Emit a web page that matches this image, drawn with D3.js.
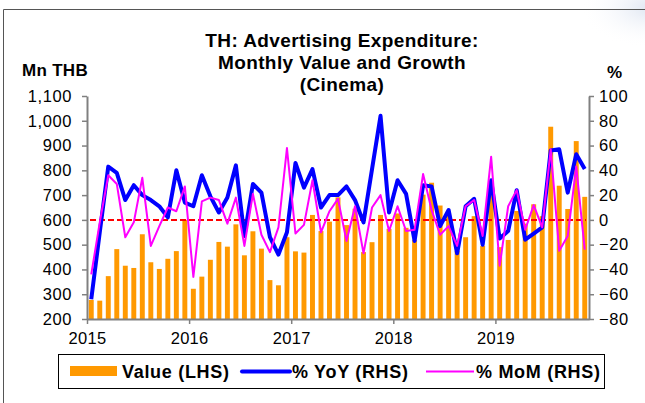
<!DOCTYPE html>
<html>
<head>
<meta charset="utf-8">
<script src="https://cdn.jsdelivr.net/npm/d3@7"></script>
<style>
  html, body { margin: 0; padding: 0; background: #fff; }
  svg { display: block; font-family: "Liberation Sans", Arial, sans-serif; }
</style>
</head>
<body>
<svg id="chart" width="645" height="403"></svg>
<script>
// ---- data ----
const years = ["2015", "2016", "2017", "2018", "2019"];
const months = d3.range(59).map(i => `${2015 + Math.floor(i / 12)}-${String(i % 12 + 1).padStart(2, "0")}`);
const values = [277, 274, 373, 482, 415, 406, 542, 429, 402, 443, 474, 600,
                 322, 371, 439, 511, 492, 582, 457, 554, 484, 357, 336, 530,
                 473, 468, 620, 555, 593, 691, 579, 645, 470, 510, 620, 564,
                 626, 568, 520, 702, 750, 658, 625, 475, 530, 615, 495, 755,
                 490, 519, 636, 585, 663, 615, 976, 738, 644, 918, 693];
const yoy = [-64, -10, 43, 38, 16, 28, 20, 16, 11, 2, 40, 14,
             11, 36, 19, 6, 18, 44, -13, 29, 22, -14, -28, -10,
             46, 26, 41, 10, 20, 20, 27, 16, -2, 41, 84, 6,
             32, 21, -17, 28, 27, -5, 8, -27, 11, 17, -20, 32,
             -15, -9, 24, -16, -11, -6, 56, 57, 22, 53, 41];
const mom = [-44, -2, 36, 29, -14, -2, 34, -21, -5, 10, 7, 27,
             -46, 15, 18, 16, -3, 18, -21, 21, -12, -26, -6, 58,
             -11, -4, 32, -10, 7, 17, -17, 11, -27, 10, 20, -9,
             11, -9, -8, 37, 8, -12, -5, -21, 11, 16, -13, 51,
             -37, 11, 24, -8, 12, -6, 57, -25, -13, 43, -24];
const leftTicks = d3.range(200, 1101, 100);
const rightTicks = d3.range(-80, 101, 20);
const titleLines = ["TH: Advertising Expenditure:", "Monthly Value and Growth", "(Cinema)"];

// ---- layout ----
const svg = d3.select("#chart");
const L = 87, R = 589, T = 96, B = 319;

// frame
svg.append("defs").append("radialGradient").attr("id", "glow")
  .call(g => {
    g.append("stop").attr("offset", "0%").attr("stop-color", "#dfe6f2");
    g.append("stop").attr("offset", "100%").attr("stop-color", "#ffffff").attr("stop-opacity", 0);
  });
svg.append("ellipse").attr("cx", 650).attr("cy", 8).attr("rx", 70).attr("ry", 40).attr("fill", "url(#glow)");
svg.append("path").attr("d", "M3.5,420 V9.5 H645").attr("fill", "none").attr("stroke", "#555").attr("stroke-width", 1);

const x = d3.scaleBand().domain(months).range([L, R]).paddingInner(0.42).paddingOuter(0.21);
const xLin = d3.scaleLinear().domain([0, months.length]).range([L, R]);
const yL = d3.scaleLinear().domain([200, 1100]).range([B, T]);
const yR = d3.scaleLinear().domain([-80, 100]).range([B, T]);
const cx = (d, i) => x(months[i]) + x.bandwidth() / 2;

// bars
svg.append("g").selectAll("rect").data(values).join("rect")
  .attr("x", (d, i) => x(months[i]))
  .attr("width", x.bandwidth())
  .attr("y", d => yL(d))
  .attr("height", d => B - yL(d))
  .attr("fill", "#FF9900");

// zero line
svg.append("line").attr("x1", L + 3).attr("x2", R - 3)
  .attr("y1", yR(0)).attr("y2", yR(0))
  .attr("stroke", "#FF0000").attr("stroke-width", 2).attr("stroke-dasharray", "6,3");

// lines
const lineR = d3.line().x(cx).y(d => yR(d));
svg.append("path").datum(yoy).attr("d", lineR)
  .attr("fill", "none").attr("stroke", "#0000FF").attr("stroke-width", 4).attr("stroke-linejoin", "round");
svg.append("path").datum(mom).attr("d", lineR)
  .attr("fill", "none").attr("stroke", "#FF00FF").attr("stroke-width", 2).attr("stroke-linejoin", "round");

// axes
const axisColor = "#808080";
function styleAxis(g) {
  g.select(".domain").attr("stroke", axisColor).attr("stroke-width", 2);
  g.selectAll(".tick line").attr("stroke", axisColor).attr("stroke-width", 1.5);
  g.selectAll("text").attr("fill", "#000").attr("font-size", 16.5).attr("letter-spacing", 0.6)
    .attr("font-family", "'Liberation Sans', Arial, sans-serif");
}
svg.append("g").attr("transform", `translate(${L},0)`)
  .call(d3.axisLeft(yL).tickValues(leftTicks).tickFormat(d3.format(",")).tickSize(5).tickSizeOuter(0).tickPadding(10))
  .call(styleAxis);
svg.append("g").attr("transform", `translate(${R},0)`)
  .call(d3.axisRight(yR).tickValues(rightTicks).tickSize(5).tickSizeOuter(0).tickPadding(5))
  .call(styleAxis);
svg.append("g").attr("transform", `translate(0,${B})`)
  .call(d3.axisBottom(xLin).tickValues([0, 12, 24, 36, 48]).tickFormat((d, i) => years[i]).tickSize(5).tickSizeOuter(0).tickPadding(8))
  .call(styleAxis)
  .call(g => g.selectAll("text").attr("letter-spacing", 0.3));

// titles
svg.append("g").selectAll("text").data(titleLines).join("text")
  .attr("x", 342).attr("y", (d, i) => 47 + i * 22)
  .attr("text-anchor", "middle").attr("font-weight", "bold").attr("font-size", 19).attr("letter-spacing", 0.4)
  .text(d => d);
svg.append("text").attr("x", 22).attr("y", 76).attr("font-weight", "bold").attr("font-size", 17).attr("letter-spacing", 0.3).text("Mn THB");
svg.append("text").attr("x", 607).attr("y", 78).attr("font-weight", "bold").attr("font-size", 17).text("%");

// legend
const lg = svg.append("g");
lg.append("rect").attr("x", 58.5).attr("y", 354.5).attr("width", 546).attr("height", 34)
  .attr("fill", "#fff").attr("stroke", "#000").attr("stroke-width", 1);
lg.append("rect").attr("x", 70).attr("y", 366).attr("width", 47).attr("height", 10).attr("fill", "#FF9900");
lg.append("line").attr("x1", 242).attr("x2", 290).attr("y1", 371.5).attr("y2", 371.5)
  .attr("stroke", "#0000FF").attr("stroke-width", 4).attr("stroke-linecap", "round");
lg.append("line").attr("x1", 426).attr("x2", 474).attr("y1", 371.5).attr("y2", 371.5)
  .attr("stroke", "#FF00FF").attr("stroke-width", 2);
[["Value (LHS)", 122], ["% YoY (RHS)", 292], ["% MoM (RHS)", 476]].forEach(([t, xx]) => {
  lg.append("text").attr("x", xx).attr("y", 378).attr("font-weight", "bold").attr("font-size", 18)
    .attr("letter-spacing", 0.7).text(t);
});
</script>
</body>
</html>
